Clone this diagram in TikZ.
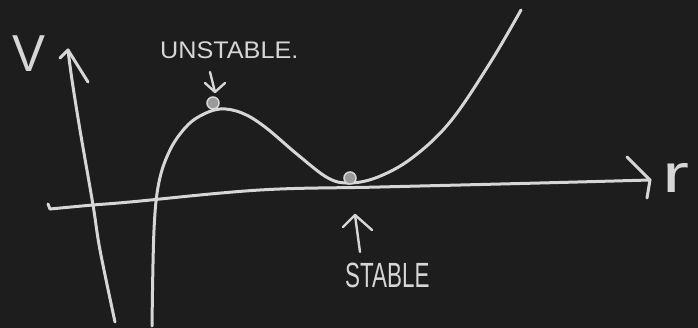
\documentclass[tikz,border=0pt]{standalone}
\usepackage{fontspec}
\setmainfont{Liberation Sans}
\definecolor{board}{HTML}{1D1D1D}
\definecolor{chalk}{HTML}{D6D6D6}
\definecolor{ballfill}{HTML}{9A9A9A}
\tikzset{
  chalkline/.style={draw=chalk, line width=3pt, line cap=round, line join=round},
  thinchalk/.style={draw=chalk, line width=2.4pt, line cap=round, line join=round},
  ball/.style={circle, draw=chalk, fill=ballfill, line width=1.5pt, minimum size=12pt, inner sep=0pt},
  lab/.style={text=chalk, inner sep=0pt, anchor=base west}
}
\begin{document}
\begin{tikzpicture}[x=1pt, y=-1pt]
  \fill[board] (0,0) rectangle (698,328);
  \useasboundingbox (0,0) rectangle (698,328);

  % axis labels
  \node[lab] (vlab) at (12,72) {\fontsize{52}{52}\selectfont\scalebox{0.95}[1]{V}};
  \node[lab] (rlab) at (662,193) {\fontsize{54}{54}\selectfont\scalebox{1.5}[1]{r}};

  % vertical axis
  \coordinate (vbot) at (115,322);
  \coordinate (vtop) at (68,50);
  \coordinate (vbl) at (60,58);
  \coordinate (vbr) at (88,82);
  \draw[chalkline] plot[smooth, tension=0.6] coordinates {(vbot) (100,250) (93,205) (80,130) (72,80) (vtop)};
  \draw[chalkline] (vbl) -- (vtop) -- (vbr);

  % horizontal axis
  \coordinate (hleft) at (50,209);
  \coordinate (hright) at (650,180);
  \coordinate (hbu) at (627,157);
  \coordinate (hbd) at (647,198);
  \draw[chalkline] (48,204) -- (hleft);
  \draw[chalkline] plot[smooth, tension=0.6] coordinates {(hleft) (93,205) (130,202) (260,190) (380,187) (540,183) (hright)};
  \draw[chalkline] (hbu) -- (hright) -- (hbd);

  % potential curve
  \draw[chalkline] plot[smooth, tension=0.6] coordinates {
    (152,326) (154,230) (159,182) (170,150) (185,128) (200,116)
    (220,109) (242,113) (265,127) (298,155) (328,178)
    (350,183) (378,177) (412,158) (450,122) (490,63) (521,10)};

  % equilibrium balls
  \node[ball] (unst) at (213,103) {};
  \node[ball] (st) at (350,178) {};

  % labels
  \node[lab] (ulab) at (160,59) {\fontsize{24}{24}\selectfont\scalebox{1.05}[1]{UNSTABLE.}};
  \node[lab] (slab) at (345,288) {\fontsize{35}{35}\selectfont\scalebox{0.64}[1]{STABLE}};

  % arrow to unstable point
  \coordinate (ua) at (210,72);
  \coordinate (ub) at (215,92);
  \draw[thinchalk] (ua) -- (ub);
  \draw[thinchalk] (205,83) -- (ub) -- (225,83);

  % arrow to stable point
  \coordinate (sa) at (360,252);
  \coordinate (sb) at (355,215);
  \draw[thinchalk] (sa) -- (sb);
  \draw[thinchalk] (343,227) -- (sb) -- (372,230);
\end{tikzpicture}
\end{document}
